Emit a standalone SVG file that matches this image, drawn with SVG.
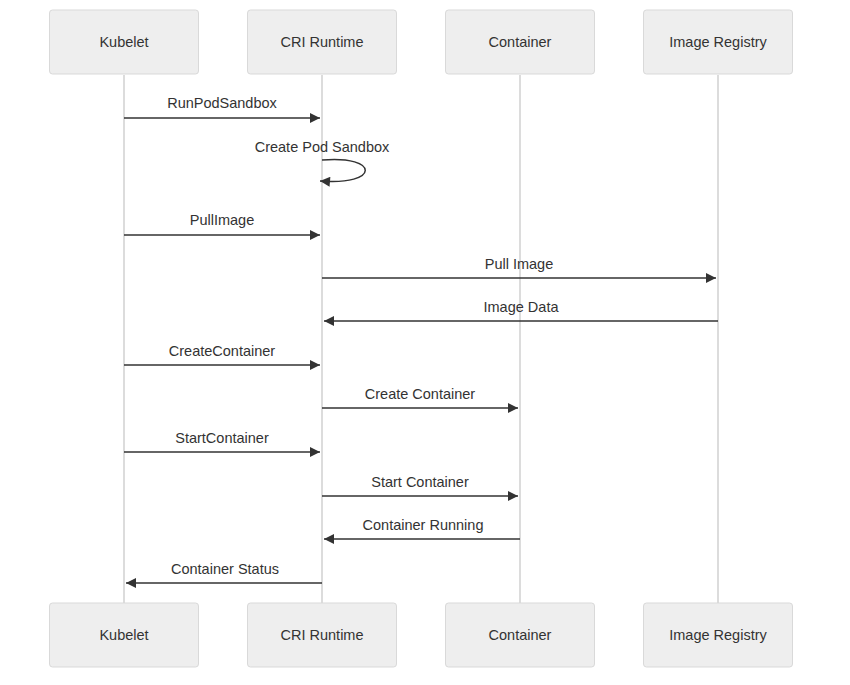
<svg xmlns="http://www.w3.org/2000/svg" width="850" height="685" viewBox="0 0 850 685">
<style>
.box{fill:#eeeeee;stroke:#d9d9d9;stroke-width:1}
.lbl{font-family:"Liberation Sans",Arial,sans-serif;font-size:14.5px;fill:#333;text-anchor:middle;dominant-baseline:central}
.life{stroke:#d0d0d0;stroke-width:1.5}
.msg{stroke:#333;stroke-width:1.5;fill:none;marker-end:url(#ah)}
</style>
<defs>
<marker id="ah" viewBox="0 0 10 10" refX="10" refY="5" markerWidth="12" markerHeight="10" markerUnits="userSpaceOnUse" orient="auto">
<path d="M0,0 L10,5 L0,10 z" fill="#333"/>
</marker>
</defs>
<rect width="850" height="685" fill="#fff"/>
<g id="lifelines">
<line class="life" x1="124" y1="75" x2="124" y2="603"/>
<line class="life" x1="322" y1="75" x2="322" y2="603"/>
<line class="life" x1="520" y1="75" x2="520" y2="603"/>
<line class="life" x1="718" y1="75" x2="718" y2="603"/>
</g>
<g id="kubelet-top"><rect class="box" x="49.5" y="10" width="149" height="64" rx="3"/><text class="lbl" x="124" y="42">Kubelet</text></g>
<g id="cri-top"><rect class="box" x="247.5" y="10" width="149" height="64" rx="3"/><text class="lbl" x="322" y="42">CRI Runtime</text></g>
<g id="container-top"><rect class="box" x="445.5" y="10" width="149" height="64" rx="3"/><text class="lbl" x="520" y="42">Container</text></g>
<g id="registry-top"><rect class="box" x="643.5" y="10" width="149" height="64" rx="3"/><text class="lbl" x="718" y="42">Image Registry</text></g>
<g id="kubelet-bottom"><rect class="box" x="49.5" y="603" width="149" height="64" rx="3"/><text class="lbl" x="124" y="635">Kubelet</text></g>
<g id="cri-bottom"><rect class="box" x="247.5" y="603" width="149" height="64" rx="3"/><text class="lbl" x="322" y="635">CRI Runtime</text></g>
<g id="container-bottom"><rect class="box" x="445.5" y="603" width="149" height="64" rx="3"/><text class="lbl" x="520" y="635">Container</text></g>
<g id="registry-bottom"><rect class="box" x="643.5" y="603" width="149" height="64" rx="3"/><text class="lbl" x="718" y="635">Image Registry</text></g>
<g id="connectors">
<line class="msg" x1="124" y1="118" x2="320" y2="118"/>
<text class="lbl" x="222" y="103">RunPodSandbox</text>
<path class="msg" d="M322,160 C380,155 380,186 320,181"/>
<text class="lbl" x="322" y="147">Create Pod Sandbox</text>
<line class="msg" x1="124" y1="235" x2="320" y2="235"/>
<text class="lbl" x="222" y="220">PullImage</text>
<line class="msg" x1="322" y1="278" x2="716" y2="278"/>
<text class="lbl" x="519" y="264">Pull Image</text>
<line class="msg" x1="718" y1="321" x2="324" y2="321"/>
<text class="lbl" x="521" y="307">Image Data</text>
<line class="msg" x1="124" y1="365" x2="320" y2="365"/>
<text class="lbl" x="222" y="351">CreateContainer</text>
<line class="msg" x1="322" y1="408" x2="518" y2="408"/>
<text class="lbl" x="420" y="394">Create Container</text>
<line class="msg" x1="124" y1="452" x2="320" y2="452"/>
<text class="lbl" x="222" y="438">StartContainer</text>
<line class="msg" x1="322" y1="496" x2="518" y2="496"/>
<text class="lbl" x="420" y="482">Start Container</text>
<line class="msg" x1="520" y1="539" x2="324" y2="539"/>
<text class="lbl" x="423" y="525">Container Running</text>
<line class="msg" x1="322" y1="583" x2="126" y2="583"/>
<text class="lbl" x="225" y="569">Container Status</text>
</g>
</svg>
